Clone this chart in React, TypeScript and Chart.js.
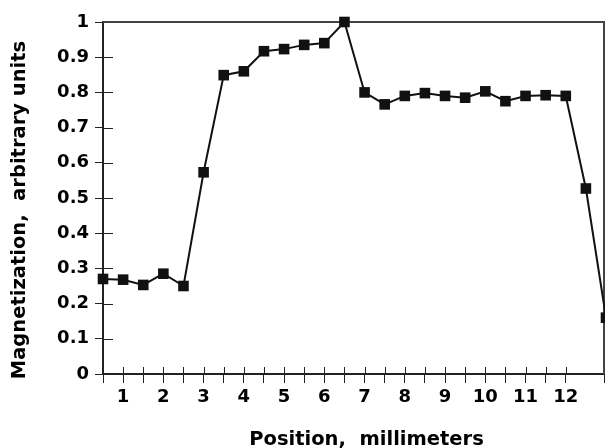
import React, { useEffect, useRef } from "react";
import { Chart, registerables } from "chart.js";

Chart.register(...registerables);

const positions = [0.5, 1, 1.5, 2, 2.5, 3, 3.5, 4, 4.5, 5, 5.5, 6, 6.5, 7, 7.5, 8, 8.5, 9, 9.5, 10, 10.5, 11, 11.5, 12, 12.5, 13];
const magnetization = [0.27, 0.268, 0.253, 0.285, 0.25, 0.573, 0.849, 0.86, 0.917, 0.923, 0.935, 0.94, 1.0, 0.8, 0.766, 0.79, 0.798, 0.79, 0.785, 0.803, 0.775, 0.79, 0.792, 0.79, 0.527, 0.16];
const xLabels = [1, 2, 3, 4, 5, 6, 7, 8, 9, 10, 11, 12];
const xTitle = "Position,  millimeters";
const yTitle = "Magnetization,  arbitrary units";

const AXIS = "#222";
const FONT = "'DejaVu Sans', sans-serif";

const shiftTitle = (scale: any, dx: number, dy: number) => {
  if (!scale || scale.__shifted) return;
  const orig = scale.drawTitle.bind(scale);
  scale.drawTitle = (...args: any[]) => {
    const c = scale.ctx;
    c.save();
    c.translate(dx, dy);
    orig(...args);
    c.restore();
  };
  scale.__shifted = true;
};

const framePlugin = {
  id: "frame",
  beforeDraw(chart: any) {
    shiftTitle(chart.scales.x, 13, 2);
    shiftTitle(chart.scales.y, 0, 12);
  },
  beforeDatasetsDraw(chart: any) {
    const { ctx, chartArea: a, scales } = chart;
    ctx.save();
    ctx.strokeStyle = AXIS;
    ctx.lineWidth = 1;
    ctx.beginPath();
    scales.x.ticks.forEach((t: any) => {
      const px = Math.round(scales.x.getPixelForValue(t.value)) + 0.5;
      ctx.moveTo(px, a.bottom);
      ctx.lineTo(px, a.bottom - 7);
    });
    scales.y.ticks.forEach((t: any) => {
      const py = Math.round(scales.y.getPixelForValue(t.value)) + 0.5;
      ctx.moveTo(a.left, py);
      ctx.lineTo(a.left + 10, py);
    });
    ctx.stroke();
    ctx.strokeStyle = "#444";
    ctx.lineWidth = 2;
    ctx.beginPath();
    ctx.moveTo(a.left, a.top);
    ctx.lineTo(a.right, a.top);
    ctx.lineTo(a.right, a.bottom);
    ctx.stroke();
    ctx.restore();
  },
};

export default function App() {
  const ref = useRef<HTMLCanvasElement | null>(null);
  useEffect(() => {
    if (!ref.current) return;
    const chart = new Chart(ref.current, {
      type: "line",
      data: {
        datasets: [
          {
            data: positions.map((p, i) => ({ x: p, y: magnetization[i] })),
            borderColor: "#111",
            backgroundColor: "#111",
            borderWidth: 2,
            pointStyle: "rect",
            pointRadius: 7.5,
            pointBorderWidth: 0,
            tension: 0,
            clip: false as any,
          },
        ],
      },
      options: {
        animation: false,
        responsive: false,
        maintainAspectRatio: false,
        layout: { autoPadding: false, padding: { top: 22, right: 1, left: 0, bottom: 0 } },
        plugins: { legend: { display: false }, tooltip: { enabled: false } },
        scales: {
          x: {
            type: "linear",
            min: 0.5,
            max: 12.95,
            afterFit: (s: any) => {
              s.height = 74;
              s.paddingLeft = 0;
              s.paddingRight = 0;
            },
            border: { display: true, color: AXIS, width: 2 },
            grid: { drawOnChartArea: false, tickLength: 9, color: AXIS, lineWidth: 1 },
            ticks: {
              stepSize: 0.5,
              autoSkip: false,
              maxRotation: 0,
              padding: 4,
              color: "#000",
              font: { family: FONT, weight: "bold", size: 18 },
              callback: (v: any) => (xLabels.includes(Number(v)) ? String(v) : ""),
            },
            title: {
              display: true,
              text: xTitle,
              color: "#000",
              font: { family: FONT, weight: "bold", size: 19.5 },
              padding: { top: 0, bottom: -2 },
            },
          },
          y: {
            min: 0,
            max: 1,
            afterFit: (s: any) => {
              s.width = 103;
            },
            border: { display: true, color: AXIS, width: 2 },
            grid: { drawOnChartArea: false, tickLength: 8, color: AXIS, lineWidth: 1 },
            ticks: {
              stepSize: 0.1,
              padding: 6,
              color: "#000",
              font: { family: FONT, weight: "bold", size: 18 },
              callback: (v: any) => String(Number(Number(v).toFixed(1))),
            },
            title: {
              display: true,
              text: yTitle,
              color: "#000",
              font: { family: FONT, weight: "bold", size: 19.5 },
              padding: { top: 8, bottom: 0 },
            },
          },
        },
      },
      plugins: [framePlugin],
    });
    return () => chart.destroy();
  }, []);
  return (
    <div style={{ position: "fixed", left: 0, top: 0, width: 605, height: 448, background: "#fff" }}>
      <canvas ref={ref} width={605} height={448} style={{ display: "block", width: 605, height: 448 }} />
    </div>
  );
}
